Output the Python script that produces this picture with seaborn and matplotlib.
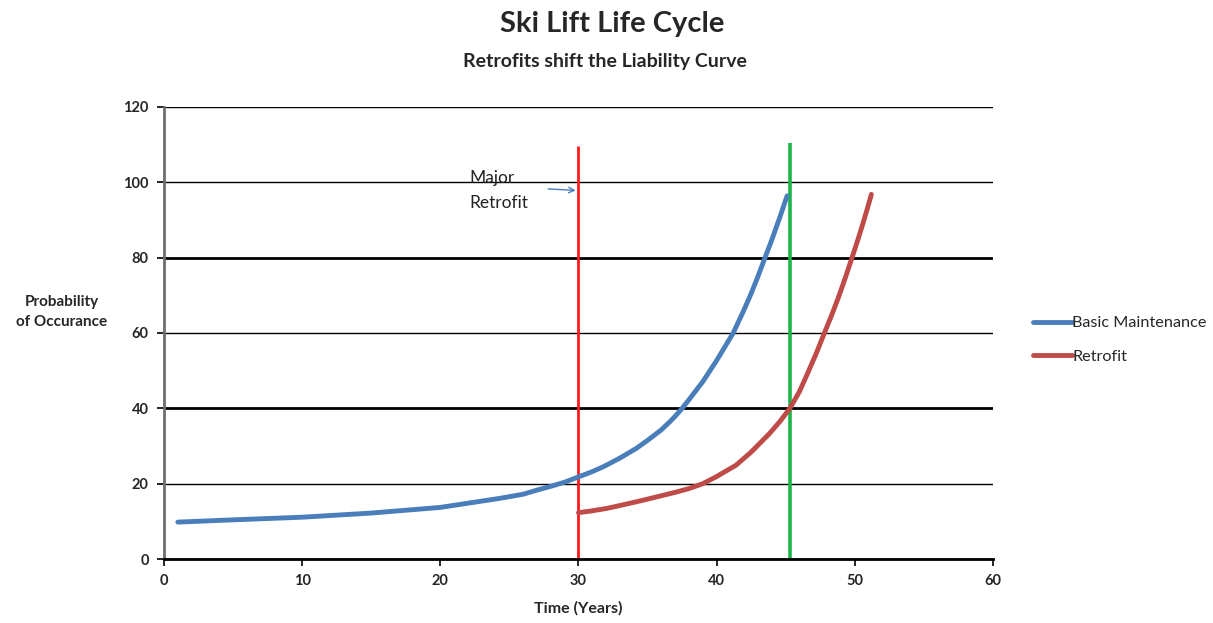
"""
Ski Lift Life Cycle chart
Retrofits shift the liability curve
"""

import numpy as np
import pandas as pd
import matplotlib
matplotlib.use("Agg")
import matplotlib.pyplot as plt
import seaborn as sns

# Basic maintenance curve
basic_years = [1, 5, 10, 15, 20, 24.3, 26, 27, 28, 29, 30, 31, 31.8, 33, 34.2, 35, 36, 36.6,
               37, 37.5, 38, 39, 40, 41.2, 42, 42.5, 43, 43.5, 44, 44.6, 45.1]
basic_prob = [9.8, 10.4, 11.1, 12.2, 13.7, 16.1, 17.2, 18.3, 19.3, 20.4, 21.8, 23.2, 24.5, 26.8,
              29.4, 31.5, 34.3, 36.4, 37.9, 40, 42.3, 47.1, 52.7, 60, 66.3, 70.5, 75.1, 80,
              84.8, 91, 96.4]

# Retrofit curve
retro_years = [30, 31, 32, 33, 34.2, 35, 36, 37, 38, 39, 40, 41.4, 42.5, 43.85, 44.6, 45.3,
               46, 46.5, 47.2, 47.8, 48.3, 48.8, 49.3, 49.8, 50.2, 50.5, 50.9, 51.2]
retro_prob = [12.3, 12.8, 13.4, 14.2, 15.2, 15.9, 16.8, 17.7, 18.7, 20, 21.9, 24.9, 28.4, 33.4,
              36.6, 40, 44.5, 48.6, 54.5, 60, 64.5, 69.3, 74.5, 80, 84.5, 88, 92.9, 96.8]

series_names = ["Basic Maintenance", "Retrofit"]
series_colors = ["#4A7EBB", "#BE4B48"]

# Vertical markers: major retrofit and end of life
retrofit_year = 30
retrofit_top = 109.6
eol_year = 45.3
eol_top = 110.4

x_ticks = [0, 10, 20, 30, 40, 50, 60]
y_ticks = [0, 20, 40, 60, 80, 100, 120]

df = pd.concat([
    pd.DataFrame({"year": basic_years, "prob": basic_prob, "series": series_names[0]}),
    pd.DataFrame({"year": retro_years, "prob": retro_prob, "series": series_names[1]}),
])

sns.set_style("white")
plt.rcParams["font.family"] = ["Lato", "DejaVu Sans"]

fig = plt.figure(figsize=(12.13, 6.23), dpi=100)
ax = fig.add_axes([0.1352, 0.1027, 0.6834, 0.7256])

# gridlines
ax.set_yticks(y_ticks)
ax.set_xticks(x_ticks)
ax.set_xlim(0, 60)
ax.set_ylim(0, 120)
ax.yaxis.grid(True, color="black", linewidth=1.0)
for val, gl in zip(y_ticks, ax.get_ygridlines()):
    if val in (40, 80):
        gl.set_linewidth(2.0)
ax.set_axisbelow(True)

# vertical lines
ax.vlines(retrofit_year, 0, retrofit_top, color="#FF1A1A", linewidth=2.0, zorder=2)
ax.vlines(eol_year, 0, eol_top, color="#1DB54A", linewidth=2.6, zorder=2)

sns.lineplot(data=df, x="year", y="prob", hue="series", palette=series_colors,
             linewidth=3.5, ax=ax, legend=False, sort=True, zorder=3)

# annotation
ax.text(22.1, 97.8, "Major\nRetrofit", fontsize=12.5, color="#222222",
        va="center", ha="left", linespacing=1.75)
ax.annotate("", xy=(30, 97.8), xytext=(27.6, 98.3),
            arrowprops=dict(arrowstyle="->", color="#4A7EBB", lw=1.0))

# spines and ticks
sns.despine(ax=ax, top=True, right=True)
ax.spines["left"].set_color("#6E6E6E")
ax.spines["left"].set_linewidth(2.0)
ax.spines["bottom"].set_color("black")
ax.spines["bottom"].set_linewidth(2.0)
ax.tick_params(axis="both", direction="out", length=5, width=1.2, color="black",
               labelsize=10.5, pad=6, left=True, bottom=True)
for lbl in ax.get_xticklabels() + ax.get_yticklabels():
    lbl.set_fontweight("bold")

ax.set_xlabel("Time (Years)", fontsize=11.5, fontweight="bold", labelpad=9)
ax.set_ylabel("")
fig.text(62 / 1213, 1 - 312 / 623, "Probability\nof Occurance", fontsize=11,
         fontweight="bold", ha="center", va="center", linespacing=1.5)

# titles
fig.text(612 / 1213, 1 - 24 / 623, "Ski Lift Life Cycle", fontsize=21,
         fontweight="bold", ha="center", va="center")
fig.text(605 / 1213, 1 - 61 / 623, "Retrofits shift the Liability Curve", fontsize=14,
         fontweight="bold", ha="center", va="center")

# legend
handles = [plt.Line2D([], [], color=c, linewidth=3.5) for c in series_colors]
fig.legend(handles, series_names, loc="center left",
           bbox_to_anchor=(1026 / 1213, 1 - 340 / 623), frameon=False,
           fontsize=11.7, handlelength=2.4, handletextpad=0.05, labelspacing=1.2,
           borderaxespad=0.0)

plt.savefig("out.png", dpi=100)
